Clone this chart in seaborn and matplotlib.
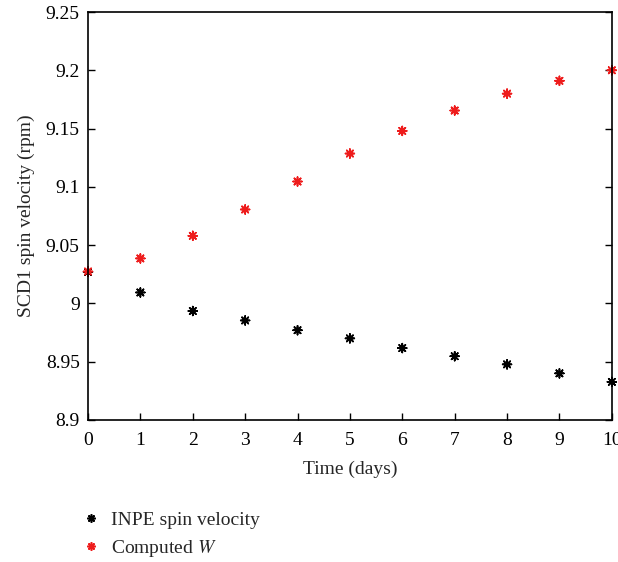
import matplotlib
matplotlib.use("Agg")
import matplotlib.pyplot as plt
import seaborn as sns
import pandas as pd
from matplotlib.lines import Line2D

days = [0, 1, 2, 3, 4, 5, 6, 7, 8, 9, 10]
inpe = [9.027, 9.0094, 8.9935, 8.9854, 8.977, 8.970, 8.9617, 8.9547, 8.9477, 8.940, 8.9327]
computed = [9.0274, 9.0386, 9.058, 9.0806, 9.1046, 9.1286, 9.148, 9.1655, 9.180, 9.191, 9.200]
series_names = ["INPE spin velocity", "Computed $W$"]
yticks = [8.9, 8.95, 9.0, 9.05, 9.1, 9.15, 9.2, 9.25]
ytick_labels = ["8.9", "8.95", "9", "9.05", "9.1", "9.15", "9.2", "9.25"]

sns.set_style("white")
plt.rcParams["font.family"] = ["Liberation Serif", "DejaVu Serif"]
plt.rcParams["mathtext.fontset"] = "stix"

df = pd.DataFrame({
    "day": days * 2,
    "value": inpe + computed,
    "series": [series_names[0]] * len(days) + [series_names[1]] * len(days),
})

fig = plt.figure(figsize=(6.18, 5.62), dpi=100)
ax = fig.add_axes([0.1424, 0.2527, 0.8476, 0.7259])
sns.scatterplot(data=df, x="day", y="value", hue="series",
                palette={series_names[0]: "black", series_names[1]: "#ee1c1c"},
                marker=(8, 2, 0), s=40, linewidth=1.2, ax=ax, legend=False, clip_on=False)

ax.set_xlim(0, 10)
ax.set_ylim(8.9, 9.25)
ax.set_xticks(days)
ax.set_xticklabels([str(d) for d in days])
ax.set_yticks(yticks)
ax.set_yticklabels(ytick_labels)
ax.tick_params(direction="in", length=5, width=1, labelsize=14, top=False, right=True,
               bottom=True, left=True, labeltop=False, labelright=False, pad=6, colors="black")
ax.tick_params(axis="x", pad=9)
for s in ax.spines.values():
    s.set_color("black")
    s.set_linewidth(1.2)
ax.set_xlabel("Time (days)", fontsize=14, labelpad=8)
ax.set_ylabel("SCD1 spin velocity (rpm)", fontsize=14, labelpad=8)

handles = [Line2D([], [], linestyle="none", marker=(8, 2, 0), markersize=6, markeredgewidth=1.2,
                  color=c) for c in ["black", "#ee1c1c"]]
fig.legend(handles, series_names, loc="upper left", bbox_to_anchor=(0.135, 0.09),
           frameon=False, fontsize=14, handlelength=0.8, handletextpad=0.6,
           labelspacing=0.45, borderaxespad=0, borderpad=0)

fig.savefig("out.png", dpi=100)
